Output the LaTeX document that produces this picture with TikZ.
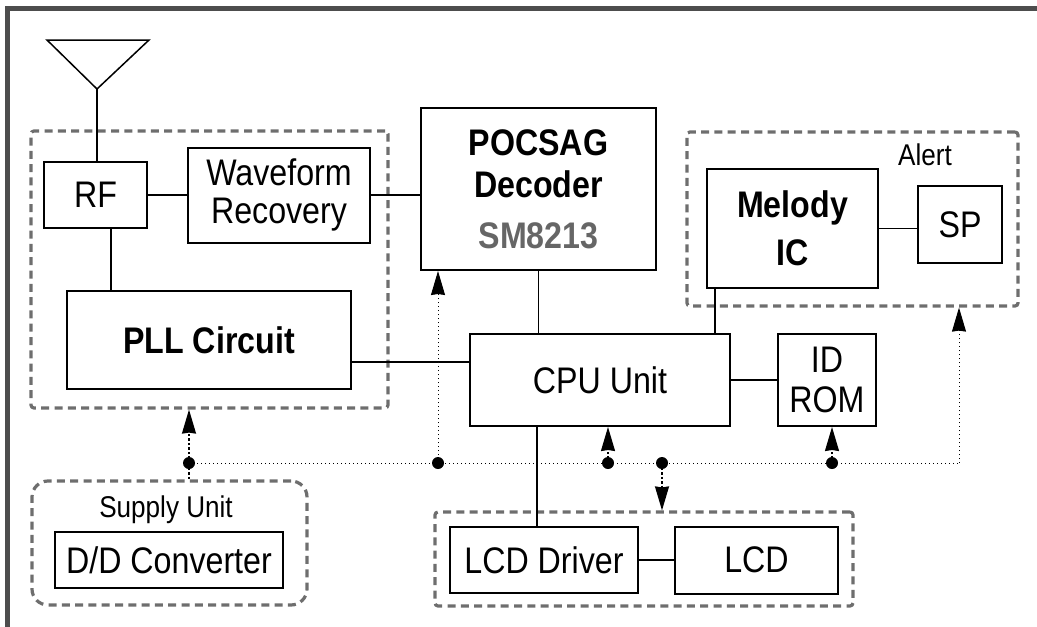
\documentclass[tikz,border=0pt]{standalone}
\usepackage{fontspec}
\setmainfont[FakeStretch=0.87]{Liberation Sans}
\usetikzlibrary{arrows.meta,positioning}
\definecolor{grpgray}{HTML}{6E6E6E}
\definecolor{framegray}{HTML}{4D4D4D}
\definecolor{chipgray}{HTML}{666666}

\begin{document}
\begin{tikzpicture}[x=1pt,y=-1pt,
    >={Stealth[length=24pt,width=14pt,inset=1pt]},
    blk/.style={draw,line width=2pt,inner sep=0pt,align=center,font=\fontsize{37}{39}\selectfont},
    grp/.style={draw=grpgray,line width=3.2pt,dash pattern=on 8pt off 5.3pt,rounded corners=3pt,inner sep=0pt},
    lbl/.style={font=\fontsize{30}{34}\selectfont},
    wire/.style={line width=1.3pt},
    bus/.style={line width=1pt,dash pattern=on 1.2pt off 2.8pt},
    pwr/.style={->,line width=1.4pt,dash pattern=on 2.5pt off 2pt}]
      \useasboundingbox (0,0) rectangle (1037,627);
      \draw[framegray,line width=4.5pt] (7.5,627) -- (7.5,8.5) -- (1037,8.5);
      % dashed groups
      \node (rfgrp) [grp,minimum width=357pt,minimum height=277pt] at (209.5,269.5) {};
      \node (alertgrp) [grp,minimum width=331pt,minimum height=174pt] at (852.5,219) {};
      \node (lcdgrp) [grp,minimum width=418pt,minimum height=94pt] at (644,559) {};
      \node (supgrp) [grp,rounded corners=16pt,minimum width=275pt,minimum height=124pt] at (169.5,543) {};
      \node (suplbl) [lbl,anchor=base] at (166,517) {Supply Unit};
      \node (alertlbl) [lbl,anchor=base] at (925,165) {Alert};
      % blocks
      \node (rf) [blk,minimum width=103pt,minimum height=66pt] at (95.5,195) {RF};
      \node (wave) [blk,minimum width=182pt,minimum height=95pt,right=39pt of rf] {Waveform\\[-1pt]Recovery};
      \node (pll) [blk,minimum width=284pt,minimum height=98pt,font=\fontsize{37}{39}\selectfont\bfseries] at (209,340) {PLL Circuit};
      \node (pocsag) [blk,minimum width=235pt,minimum height=162pt,font=\fontsize{37}{39}\selectfont\bfseries] at (538.5,189)
        {POCSAG\\[3pt]Decoder\\[12pt]{\color{chipgray}SM8213}};
      \node (melody) [blk,minimum width=171pt,minimum height=119pt,font=\fontsize{37}{39}\selectfont\bfseries] at (792.5,228.5) {Melody\\[9pt]IC};
      \node (sp) [blk,minimum width=84pt,minimum height=77pt] at (960,224.5) {SP};
      \node (cpu) [blk,minimum width=260pt,minimum height=92pt] at (600,380) {CPU Unit};
      \node (idrom) [blk,minimum width=98pt,minimum height=92pt,right=46pt of cpu] {ID\\[1pt]ROM};
      \node (lcddrv) [blk,minimum width=188pt,minimum height=66pt] at (544,560) {LCD Driver};
      \node (lcd) [blk,minimum width=163pt,minimum height=67pt,right=35pt of lcddrv] {LCD};
      \node (dd) [blk,minimum width=228pt,minimum height=56pt] at (169,560) {D/D Converter};
      % antenna
      \coordinate (ant) at (97,89);
      \draw[line width=1.5pt,line join=miter] (47,40) -- (149,40) -- (ant) -- cycle;
      % signal lines
      \draw[wire] (ant) -- (ant |- rf.north);
      \path[wire] (rf) edge (wave)
        (cpu) edge (idrom)
        (lcddrv) edge (lcd);
      \draw[wire] (wave.east) -- (wave.east -| pocsag.west);
      \draw[wire] ([xshift=15.5pt]rf.south) -- ([xshift=15.5pt]rf.south |- pll.north);
      \draw[wire] ([yshift=-22pt]pll.east) -- ([yshift=-22pt]pll.east -| cpu.west);
      \draw[wire] (pocsag.south) -- (pocsag.south |- cpu.north);
      \draw[wire] ([xshift=9pt]melody.south west) -- ([xshift=9pt]melody.south west |- cpu.north);
      \draw[wire] (melody.east) -- (melody.east -| sp.west);
      \draw[wire] ([xshift=-7pt]lcddrv.north) -- ([xshift=-7pt]lcddrv.north |- cpu.south);
      % supply bus
      \coordinate (j1) at (189,463);
      \coordinate (j2) at (438,463);
      \coordinate (j3) at (608,463);
      \coordinate (j4) at (662,463);
      \coordinate (j5) at (832,463);
      \coordinate (jc) at (959,463);
      \draw[bus] (j1) -- (jc);
      \draw[bus,->] (jc) -- (jc |- alertgrp.south);
      \draw[bus,->] (j2) -- (j2 |- pocsag.south);
      \draw[pwr,-] (j1) -- (j1 |- supgrp.north);
      \draw[pwr] (j1) -- (j1 |- rfgrp.south);
      \draw[pwr] (j3) -- (j3 |- cpu.south);
      \draw[pwr] (j4) -- (j4 |- lcdgrp.north);
      \draw[pwr] (j5) -- (j5 |- idrom.south);
      \foreach \j in {j1,j2,j3,j4,j5}
        \fill (\j) circle [radius=6pt];
\end{tikzpicture}
\end{document}
